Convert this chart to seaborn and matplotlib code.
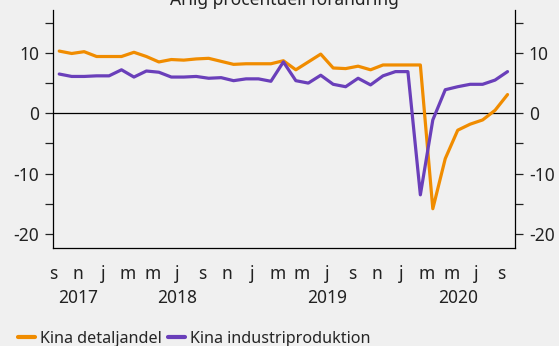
import numpy as np
import pandas as pd
import matplotlib
matplotlib.use("Agg")
import matplotlib.pyplot as plt
import matplotlib.transforms as mtransforms
import seaborn as sns

# Monthly data, Sep 2017 - Sep 2020
months = pd.period_range("2017-09", "2020-09", freq="M").astype(str).tolist()
retail = [10.3, 9.9, 10.2, 9.4, 9.4, 9.4, 10.1, 9.4, 8.5, 8.9, 8.8, 9.0,
          9.1, 8.6, 8.1, 8.2, 8.2, 8.2, 8.7, 7.2, 8.5, 9.8, 7.5, 7.4,
          7.8, 7.2, 8.0, 8.0, 8.0, 8.0, -15.8, -7.5, -2.8, -1.8, -1.1, 0.5,
          3.1]
industry = [6.5, 6.1, 6.1, 6.2, 6.2, 7.2, 6.0, 7.0, 6.8, 6.0, 6.0, 6.1,
            5.8, 5.9, 5.4, 5.7, 5.7, 5.3, 8.5, 5.4, 5.0, 6.3, 4.8, 4.4,
            5.8, 4.7, 6.2, 6.9, 6.9, -13.5, -1.1, 3.9, 4.4, 4.8, 4.8, 5.5,
            6.9]
series_names = ["Kina detaljandel", "Kina industriproduktion"]
month_letters = ["s", "n", "j", "m", "m", "j", "s", "n", "j", "m", "m", "j",
                 "s", "n", "j", "m", "m", "j", "s"]
years = ["2017", "2018", "2019", "2020"]
title = "Årlig procentuell förändring"

colors = {"Kina detaljandel": "#F08C00", "Kina industriproduktion": "#6A3FBA"}
bg = "#F0F0F0"

# long-form frame, x is month index centred in the month
x = np.arange(len(months)) + 0.5
df = pd.concat([
    pd.DataFrame({"x": x, "value": retail, "serie": series_names[0]}),
    pd.DataFrame({"x": x, "value": industry, "serie": series_names[1]}),
])

sns.set_style("white")
plt.rcParams["font.family"] = ["Noto Sans", "DejaVu Sans"]
plt.rcParams["font.size"] = 12.5
plt.rcParams["axes.unicode_minus"] = False

fig = plt.figure(figsize=(5.59, 3.46), dpi=100, facecolor=bg)
ax = fig.add_axes([53 / 559, 1 - 248 / 346, (515 - 53) / 559, (248 - 10) / 346])
ax.set_facecolor(bg)

sns.lineplot(data=df, x="x", y="value", hue="serie", palette=colors,
             linewidth=2.3, ax=ax, legend=False)

ax.axhline(0, color="black", linewidth=0.9, zorder=1)

xmax = len(months) + 0.1
ax.set_xlim(0, xmax)
ax.set_ylim(-22.3, 17.1)

# y axis: labels both sides, minor ticks at the fives
ax.set_yticks([-20, -10, 0, 10])
ax.set_yticks([-15, -5, 5, 15], minor=True)
ax.tick_params(axis="y", which="both", direction="out", length=6, width=0.9,
               left=True, right=True, labelleft=True, labelright=True,
               pad=4, colors="#222222")

# x axis: tick every second month, longer at January
tick_pos = np.arange(0, len(months), 2)
ax.set_xticks(tick_pos)
ax.set_xticklabels(month_letters)
ax.tick_params(axis="x", which="major", direction="out", length=3, width=0.9,
               pad=9, colors="#222222")
for pos, tl in zip(tick_pos, ax.xaxis.get_major_ticks()):
    if months[pos].endswith("-01"):
        tl.tick1line.set_markersize(7)

for side in ["left", "right", "bottom"]:
    ax.spines[side].set_visible(True)
    ax.spines[side].set_color("black")
    ax.spines[side].set_linewidth(0.9)
ax.spines["top"].set_visible(False)

ax.set_xlabel("")
ax.set_ylabel("")

# year labels centred on each year's span
trans = mtransforms.blended_transform_factory(ax.transData, ax.transAxes)
year_starts = [0, 4, 16, 28]
year_ends = [4, 16, 28, xmax]
for yr, s, e in zip(years, year_starts, year_ends):
    ax.text((s + e) / 2, -0.21, yr, transform=trans, ha="center", va="center",
            fontsize=12.5, color="#222222")

fig.text(284 / 559, 1 - 5 / 346, title, ha="center", va="baseline",
         fontsize=12.5, color="#222222")

handles = [plt.Line2D([], [], color=colors[n], linewidth=3) for n in series_names]
fig.legend(handles, series_names, loc="center left",
           bbox_to_anchor=(18 / 559, 1 - 339 / 346), ncol=2, frameon=False,
           borderpad=0, borderaxespad=0,
           handlelength=1.05, handletextpad=0.3, columnspacing=0.4,
           fontsize=11.6)

fig.savefig("out.png", dpi=100, facecolor=bg)
